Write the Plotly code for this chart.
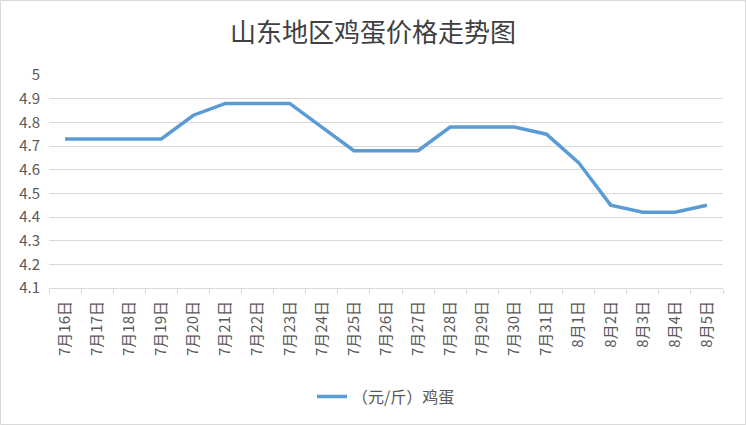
import plotly.graph_objects as go

dates = ["7月16日", "7月17日", "7月18日", "7月19日", "7月20日", "7月21日", "7月22日",
         "7月23日", "7月24日", "7月25日", "7月26日", "7月27日", "7月28日", "7月29日",
         "7月30日", "7月31日", "8月1日", "8月2日", "8月3日", "8月4日", "8月5日"]
prices = [4.73, 4.73, 4.73, 4.73, 4.83, 4.88, 4.88, 4.88, 4.78, 4.68, 4.68,
          4.68, 4.78, 4.78, 4.78, 4.75, 4.63, 4.45, 4.42, 4.42, 4.45]
series_name = "（元/斤）鸡蛋"
y_ticks = [4.1, 4.2, 4.3, 4.4, 4.5, 4.6, 4.7, 4.8, 4.9, 5]

font_family = "Noto Sans CJK SC, sans-serif"

fig = go.Figure()
fig.add_trace(go.Scatter(
    x=dates, y=prices, mode="lines", name=series_name,
    line=dict(color="#5B9BD5", width=3.5),
))

fig.update_layout(
    width=746, height=425,
    paper_bgcolor="white", plot_bgcolor="white",
    margin=dict(l=49, r=23, t=75, b=137),
    font=dict(family=font_family, size=13, color="#595959"),
    title=dict(text="山东地区鸡蛋价格走势图", x=0.5, xanchor="center",
               y=0.922, yanchor="middle",
               font=dict(size=26, color="#404040", family=font_family)),
    showlegend=True,
    legend=dict(orientation="h", x=0.5, xanchor="center", y=-0.51, yanchor="middle",
                font=dict(size=16, color="#595959")),
    xaxis=dict(type="category", range=[-0.5, len(dates) - 0.5], tickangle=-90,
               showgrid=False, showline=True, linecolor="#D9D9D9", linewidth=1,
               ticks="outside", tickson="boundaries", ticklen=5, tickcolor="#D9D9D9",
               ticklabelstandoff=6, tickfont=dict(size=15)),
    yaxis=dict(range=[4.1, 5.0], tickvals=y_ticks, ticktext=[str(v) for v in y_ticks],
               showgrid=True, gridcolor="#D9D9D9", gridwidth=1,
               zeroline=False, showline=False, ticks="",
               ticklabelstandoff=8, tickfont=dict(size=15)),
    shapes=[dict(type="rect", xref="paper", yref="paper",
                 x0=-48.5/674, x1=1 + 22.5/674, y0=-136.5/213, y1=1 + 74.5/213,
                 line=dict(color="#D9D9D9", width=1))],
)

fig.write_html("out.html", config={"displayModeBar": False},
               post_script="document.body.style.margin='0';")
